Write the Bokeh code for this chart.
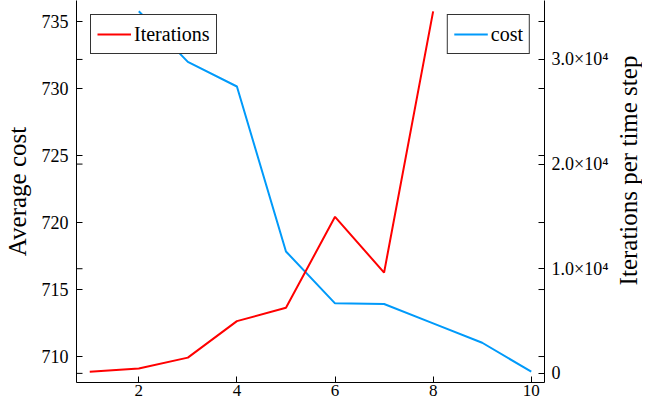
import math
from bokeh.plotting import figure
from bokeh.layouts import row
from bokeh.models import (Range1d, LinearAxis, FixedTicker, Legend, LegendItem, Label)
from bokeh.embed import file_html
from bokeh.resources import INLINE

# ---- data ----
cost_x = [2, 3, 4, 5, 6, 7, 8, 9, 10]
cost_y = [735.76, 731.99, 730.15, 717.84, 713.97, 713.92, 712.48, 711.03, 708.87]

iter_x = [1, 2, 3, 4, 5, 6, 7, 8]
iter_y = [160, 470, 1505, 4990, 6275, 14960, 9630, 34600]

x_ticks = [2, 4, 6, 8, 10]
left_ticks = [710, 715, 720, 725, 730, 735]
right_ticks = [0, 10000, 20000, 30000]
right_tick_labels = ["0", "1.0×10⁴", "2.0×10⁴", "3.0×10⁴"]

FONT = "Liberation Serif"
BLUE = "#009AFA"
RED = "#FF0000"

SIDE_W = 30
W, H = 642 - SIDE_W, 403
BL, BR, BT, BB = 71, 68, 0, 21


def padded(lo, hi, f=0.03):
    d = hi - lo
    return lo - f * d, hi + f * d


xr = padded(min(iter_x + cost_x), max(iter_x + cost_x))
ly = padded(min(cost_y), max(cost_y))
ry = padded(min(iter_y), max(iter_y))

p = figure(width=W, height=H, output_backend="svg", toolbar_location=None,
           x_range=Range1d(*xr), y_range=Range1d(*ly),
           min_border_left=BL, min_border_right=BR, min_border_top=BT,
           min_border_bottom=BB)
p.extra_y_ranges = {"right": Range1d(*ry)}
p.outline_line_color = None
p.xgrid.visible = False
p.ygrid.visible = False
p.background_fill_color = "white"
p.border_fill_color = "white"


def style_axis(ax, ticks):
    ax.ticker = FixedTicker(ticks=ticks)
    ax.major_tick_in = 6
    ax.major_tick_out = 0
    ax.minor_tick_in = 0
    ax.minor_tick_out = 0
    ax.axis_line_color = "black"
    ax.axis_line_width = 1
    ax.major_tick_line_color = "black"
    ax.major_label_text_font = FONT
    ax.major_label_text_font_size = "18px"
    ax.major_label_text_color = "black"
    ax.axis_label_text_font = FONT
    ax.axis_label_text_font_size = "25px"
    ax.axis_label_text_font_style = "normal"
    ax.axis_label_text_color = "black"


style_axis(p.xaxis[0], x_ticks)
p.xaxis[0].major_label_standoff = 2
p.xaxis[0].major_label_text_font_size = "17px"

style_axis(p.yaxis[0], left_ticks)
p.yaxis[0].axis_label = "Average cost"
p.yaxis[0].major_label_standoff = 8
p.yaxis[0].axis_label_standoff = 8

rax = LinearAxis(y_range_name="right")
style_axis(rax, right_ticks)
rax.major_label_overrides = {t: s for t, s in zip(right_ticks, right_tick_labels)}
rax.major_label_standoff = 7
p.add_layout(rax, "right")

# mirrored tick marks (box frame)
p.ray(x=[xr[0]] * len(right_ticks), y=right_ticks, length=6, length_units="screen",
      angle=0, line_color="black", line_width=1, y_range_name="right")
p.ray(x=[xr[1]] * len(left_ticks), y=left_ticks, length=6, length_units="screen",
      angle=math.pi, line_color="black", line_width=1)

r_cost = p.line(cost_x, cost_y, line_color=BLUE, line_width=2)
r_iter = p.line(iter_x, iter_y, line_color=RED, line_width=2, y_range_name="right")


def make_legend(label, renderer, loc):
    lg = Legend(items=[LegendItem(label=label, renderers=[renderer])], location=loc)
    lg.label_text_font = FONT
    lg.label_text_font_size = "20px"
    lg.label_text_color = "black"
    lg.glyph_width = 34
    lg.glyph_height = 26
    lg.label_standoff = 3
    lg.padding = 6
    lg.margin = 14
    lg.border_line_color = "black"
    lg.border_line_width = 1
    lg.border_line_alpha = 0.8
    lg.background_fill_alpha = 1
    return lg


p.add_layout(make_legend("Iterations", r_iter, "top_left"))
p.add_layout(make_legend("cost", r_cost, "top_right"))

# narrow side strip carrying the right axis title (reads bottom-to-top)
side = figure(width=SIDE_W, height=H, output_backend="svg", toolbar_location=None,
              x_range=Range1d(0, 1), y_range=Range1d(0, 1), min_border=0)
side.axis.visible = False
side.grid.visible = False
side.outline_line_color = None
side.background_fill_color = "white"
side.border_fill_color = "white"
frame_h = H - BT - BB
side.add_layout(Label(x=16, y=H - BT - frame_h / 2, x_units="screen", y_units="screen",
                      text="Iterations per time step", angle=math.pi / 2,
                      text_align="center", text_baseline="middle",
                      text_font=FONT, text_font_size="25px", text_color="black"))

layout = row(p, side, spacing=0)
open("out.html", "w").write(file_html(layout, INLINE))
